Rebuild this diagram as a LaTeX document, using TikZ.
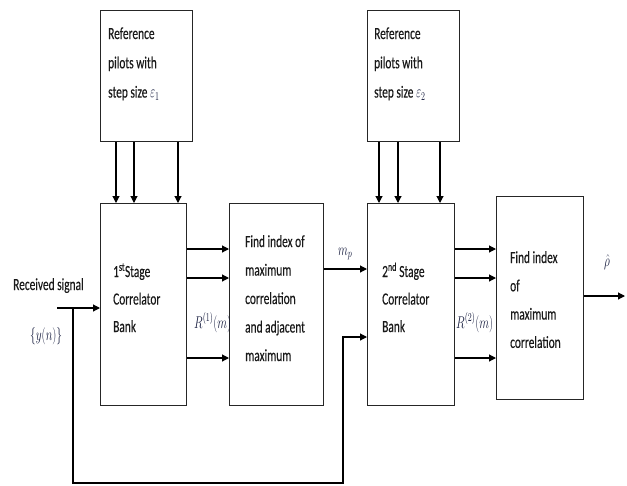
\documentclass[tikz,border=0pt]{standalone}
\usepackage{fontspec}
\setmainfont{Carlito}[UprightFeatures={FakeBold=0.35}]
\usepackage{graphicx}
\usepackage{fix-cm}
\usetikzlibrary{arrows.meta}
\definecolor{mathink}{RGB}{22,28,62}
% narrow multi-line label, first line on the node's baseline
\newcommand\sqz[1]{\scalebox{0.67}[1]{\begin{tabular}[t]{@{}l@{}}#1\end{tabular}}}
\newcommand\mth[1]{\textcolor{mathink}{$#1$}}

\begin{document}
\begin{tikzpicture}[x=1pt,y=-1pt,
  block/.style={draw=black!85,line width=1.1pt,anchor=north west,inner sep=0pt},
  lbl/.style={anchor=base west,inner sep=0pt,text=black!90,font=\fontsize{17}{28.5}\selectfont},
  arr/.style={line width=1.1pt,-{Triangle[length=7pt,width=7pt]}},
  wire/.style={line width=1.1pt}]
\useasboundingbox (0,0) rectangle (627,485);

% blocks
\node[block,minimum width=92pt,minimum height=131pt] (ref1) at (100,10) {};
\node[block,minimum width=92pt,minimum height=131pt] (ref2) at (367,10) {};
\node[block,minimum width=86pt,minimum height=202pt] (corr1) at (100,203) {};
\node[block,minimum width=94pt,minimum height=202pt] (find1) at (229,203) {};
\node[block,minimum width=87pt,minimum height=202pt] (corr2) at (367,203) {};
\node[block,minimum width=87pt,minimum height=203pt] (find2) at (496,196) {};

% block texts
\node[lbl,font=\fontsize{17}{29.3}\selectfont] (t1) at (108,39) {\sqz{Reference\\pilots with\\step size \mth{\varepsilon_1}}};
\node[lbl,font=\fontsize{17}{29.3}\selectfont] (t2) at (374,39) {\sqz{Reference\\pilots with\\step size \mth{\varepsilon_2}}};
\node[lbl,font=\fontsize{17}{27.5}\selectfont] (t3) at (113,277) {\sqz{1\textsuperscript{st}Stage\\Correlator\\Bank}};
\node[lbl] (t4) at (245,247) {\sqz{Find index of\\maximum\\correlation\\and adjacent\\maximum}};
\node[lbl,font=\fontsize{17}{27.5}\selectfont] (t5) at (382,277) {\sqz{2\textsuperscript{nd} Stage\\Correlator\\Bank}};
\node[lbl,font=\fontsize{17}{28.3}\selectfont] (t6) at (510,263) {\sqz{Find index\\of\\maximum\\correlation}};

% signal labels
\node[lbl] (rx) at (13,290) {\sqz{Received signal}};
\node[lbl] (yn) at (30,340) {\sqz{\mth{\{y(n)\}}}};
\node[lbl] (r1) at (194,328) {\sqz{\mth{R^{(1)}(m)}}};
\node[lbl] (r2) at (456,328) {\sqz{\mth{R^{(2)}(m)}}};
\node[lbl] (mp) at (338,255) {\sqz{\mth{m_p}}};
\node[lbl] (rho) at (604,266) {\sqz{\mth{\hat{\rho}}}};

% pilot references into the correlator banks
\foreach \dx in {16,34,78}
  \draw[arr] ([xshift=\dx pt]ref1.south west) -- ([xshift=\dx pt]corr1.north west);
\foreach \dx in {12,31,73}
  \draw[arr] ([xshift=\dx pt]ref2.south west) -- ([xshift=\dx pt]corr2.north west);

% correlator outputs
\foreach \dy in {46,75,155} {
  \draw[arr] ([yshift=-\dy pt]corr1.north east) -- ([yshift=-\dy pt]find1.north west);
  \draw[arr] ([yshift=-\dy pt]corr2.north east) -- ([yshift=-\dy pt]corr2.north east -| find2.west);
}

% peak index into second stage
\draw[arr] ([yshift=-66pt]find1.north east) -- ([yshift=-66pt]corr2.north west);

% received signal and its feedback to the second stage
\coordinate (in) at (57,308);
\coordinate (tap) at (73,308);
\coordinate (fb1) at (73,483);
\coordinate (fb2) at (343,483);
\draw[arr] (in) -- (in -| corr1.west);
\draw[arr] (tap) -- (fb1) -- (fb2) |- ([yshift=-134pt]corr2.north west);

% estimate output
\coordinate (out) at (625,296);
\draw[arr] (out -| find2.east) -- (out);
\end{tikzpicture}
\end{document}
